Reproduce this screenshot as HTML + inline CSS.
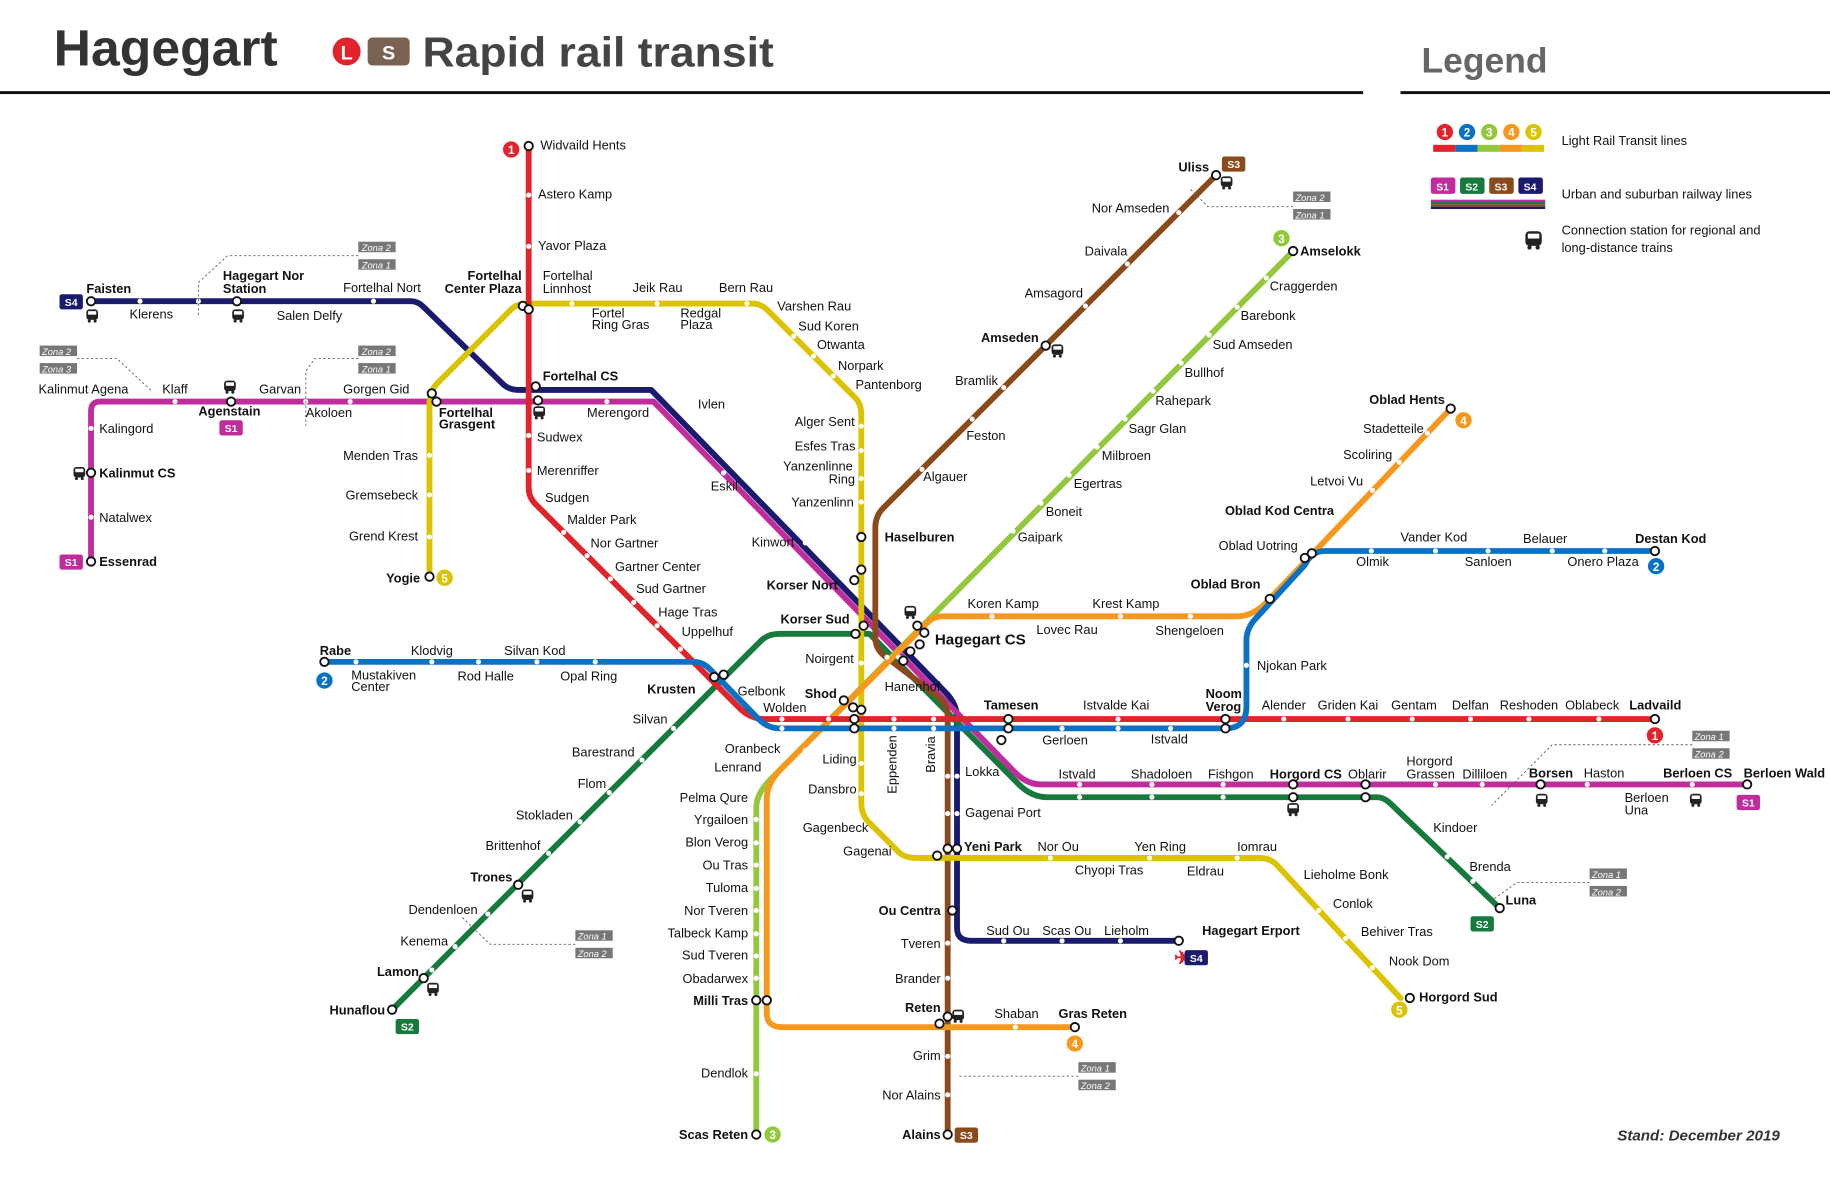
<!DOCTYPE html>
<html><head><meta charset="utf-8"><style>
html,body{margin:0;padding:0;background:#fff}
svg{display:block}
text{font-family:"Liberation Sans",sans-serif;font-size:11px;fill:#111}
.b{font-weight:bold}
.e{text-anchor:end}
.d{fill:#fff}
.i{fill:#fff;stroke:#111;stroke-width:1.6}
.L{fill:none;stroke-width:5;stroke-linejoin:round;stroke-linecap:round}
.z{fill:#777}
.zt{fill:#fff;font-size:8px;font-style:italic}
.n{font-size:9px;font-weight:bold;fill:#fff;text-anchor:middle}
</style></head><body>
<svg width="1830" height="1186" viewBox="0 0 1568 1016" xmlns="http://www.w3.org/2000/svg">
<defs>
<g id="bus"><rect x="-5" y="-5" width="10" height="9" rx="2.5" fill="#222"/><rect x="-3.5" y="-3.5" width="7" height="3" fill="#fff"/><circle cx="-2.5" cy="5" r="1.3" fill="#222"/><circle cx="2.5" cy="5" r="1.3" fill="#222"/></g>
</defs>
<!-- header -->
<text x="46" y="56" class="b" style="font-size:44px;fill:#333" textLength="192" lengthAdjust="spacingAndGlyphs">Hagegart</text>
<circle cx="297" cy="44" r="12" fill="#e3232b"/><text x="297" y="51" class="b" style="font-size:17px;fill:#fff;text-anchor:middle">L</text>
<rect x="315" y="32" width="36" height="24" rx="4" fill="#7a6252"/><text x="333" y="51" class="b" style="font-size:17px;fill:#fff;text-anchor:middle">S</text>
<text x="362" y="57" class="b" style="font-size:36px;fill:#444" textLength="301" lengthAdjust="spacingAndGlyphs">Rapid rail transit</text>
<rect x="0" y="78" width="1168" height="2.5" fill="#111"/>
<text x="1218" y="62" class="b" style="font-size:30px;fill:#666" textLength="108" lengthAdjust="spacingAndGlyphs">Legend</text>
<rect x="1200" y="78" width="368" height="2.5" fill="#111"/>
<!-- legend -->
<g>
<circle cx="1238" cy="113" r="7" fill="#e3232b"/><text x="1238" y="117" class="n" style="font-size:10px">1</text>
<circle cx="1257" cy="113" r="7" fill="#0a72c4"/><text x="1257" y="117" class="n" style="font-size:10px">2</text>
<circle cx="1276" cy="113" r="7" fill="#94c83c"/><text x="1276" y="117" class="n" style="font-size:10px">3</text>
<circle cx="1295" cy="113" r="7" fill="#f7981d"/><text x="1295" y="117" class="n" style="font-size:10px">4</text>
<circle cx="1314" cy="113" r="7" fill="#dcc300"/><text x="1314" y="117" class="n" style="font-size:10px">5</text>
<rect x="1228" y="124" width="19" height="6" fill="#e3232b"/><rect x="1247" y="124" width="19" height="6" fill="#0a72c4"/><rect x="1266" y="124" width="19" height="6" fill="#94c83c"/><rect x="1285" y="124" width="19" height="6" fill="#f7981d"/><rect x="1304" y="124" width="19" height="6" fill="#dcc300"/>
<text x="1338" y="124">Light Rail Transit lines</text>
<rect x="1226" y="152" width="21" height="14" rx="2" fill="#c02c9c"/><text x="1236" y="163" class="n">S1</text>
<rect x="1251" y="152" width="21" height="14" rx="2" fill="#157a3c"/><text x="1261" y="163" class="n">S2</text>
<rect x="1276" y="152" width="21" height="14" rx="2" fill="#8b4a1c"/><text x="1286" y="163" class="n">S3</text>
<rect x="1301" y="152" width="21" height="14" rx="2" fill="#1a1a6e"/><text x="1311" y="163" class="n">S4</text>
<rect x="1226" y="171" width="98" height="2" fill="#c02c9c"/><rect x="1226" y="173" width="98" height="2" fill="#157a3c"/><rect x="1226" y="175" width="98" height="2" fill="#8b4a1c"/><rect x="1226" y="177" width="98" height="2" fill="#1a1a6e"/>
<text x="1338" y="170">Urban and suburban railway lines</text>
<use href="#bus" x="1314" y="205" transform="translate(1314,205) scale(1.4) translate(-1314,-205)"/>
<text x="1338" y="201">Connection station for regional and</text>
<text x="1338" y="216">long-distance trains</text>
</g>
<!-- lines -->
<path class="L" stroke="#1a1a6e" d="M78,258 H352 Q358,258 363,263 L432,330 Q437,334 445,334 H558 L810,593 Q820,603 820,615 V795 Q820,806 832,806 H1010"/>
<path class="L" stroke="#c02c9c" d="M78,481 V352 Q78,344 86,344 H560 L868,660 Q879,672 892,672 H1497"/>
<path class="L" stroke="#157a3c" d="M336,865 L652,549 Q658,543 668,543 H745 L873,672 Q884,683 898,683 H1180 Q1186,683 1192,689 L1285,778"/>
<path class="L" stroke="#8b4a1c" d="M1042,150 L757,435 Q750,442 750,452 V546 Q750,556 758,562 L804,597 Q812,604 812,614 V972"/>
<path class="L" stroke="#dcc300" d="M368,494 V345 Q368,335 375,328 L438,265 Q443,260 452,260 H645 Q652,260 658,266 L733,341 Q738,346 738,356 V688 Q738,698 745,705 L770,730 Q775,735 785,735 H1080 Q1088,735 1094,741 L1200,855"/>
<path class="L" stroke="#94c83c" d="M1108,215 L660,668 Q648,680 648,692 V972"/>
<path class="L" stroke="#f7981d" d="M1243,350 L1088,513 Q1075,528 1060,528 H808 Q800,528 795,533 L668,660 Q657,672 657,684 V868 Q657,880 670,880 H920"/>
<path class="L" stroke="#e3232b" d="M453,125 V418 Q453,426 459,432 L632,605 Q642,616 655,616 H1418"/>
<path class="L" stroke="#0a72c4" d="M278,567 H595 Q602,567 608,573 L650,616 Q658,624 668,624 H1050 Q1068,624 1068,605 V548 Q1068,540 1074,532 L1118,484 Q1124,472 1135,472 H1418"/>
<!-- station dots -->
<g class="d">
<circle cx="453" cy="167" r="2.2"/><circle cx="453" cy="211" r="2.2"/><circle cx="453" cy="373" r="2.2"/><circle cx="453" cy="403" r="2.2"/>
<circle cx="483" cy="456" r="2.2"/><circle cx="503" cy="476" r="2.2"/><circle cx="523" cy="496" r="2.2"/><circle cx="543" cy="516" r="2.2"/><circle cx="563" cy="536" r="2.2"/><circle cx="583" cy="556" r="2.2"/>
<circle cx="670" cy="616" r="2.2"/><circle cx="710" cy="616" r="2.2"/><circle cx="766" cy="616" r="2.2"/><circle cx="800" cy="616" r="2.2"/><circle cx="958" cy="616" r="2.2"/><circle cx="1100" cy="616" r="2.2"/><circle cx="1155" cy="616" r="2.2"/><circle cx="1210" cy="616" r="2.2"/><circle cx="1260" cy="616" r="2.2"/><circle cx="1310" cy="616" r="2.2"/><circle cx="1370" cy="616" r="2.2"/>
<circle cx="305" cy="567" r="2.2"/><circle cx="370" cy="567" r="2.2"/><circle cx="410" cy="567" r="2.2"/><circle cx="460" cy="567" r="2.2"/><circle cx="510" cy="567" r="2.2"/>
<circle cx="670" cy="624" r="2.2"/><circle cx="766" cy="624" r="2.2"/><circle cx="800" cy="624" r="2.2"/><circle cx="910" cy="624" r="2.2"/><circle cx="958" cy="624" r="2.2"/><circle cx="1003" cy="624" r="2.2"/><circle cx="1068" cy="570" r="2.2"/>
<circle cx="1175" cy="472" r="2.2"/><circle cx="1230" cy="472" r="2.2"/><circle cx="1275" cy="472" r="2.2"/><circle cx="1330" cy="472" r="2.2"/><circle cx="1375" cy="472" r="2.2"/>
<circle cx="1085" cy="238" r="2.2"/><circle cx="1060" cy="263" r="2.2"/><circle cx="1036" cy="287" r="2.2"/><circle cx="1012" cy="311" r="2.2"/><circle cx="988" cy="335" r="2.2"/><circle cx="964" cy="359" r="2.2"/><circle cx="940" cy="383" r="2.2"/><circle cx="916" cy="407" r="2.2"/><circle cx="892" cy="431" r="2.2"/><circle cx="868" cy="455" r="2.2"/><circle cx="760" cy="563" r="2.2"/>
<circle cx="648" cy="702" r="2.2"/><circle cx="648" cy="722" r="2.2"/><circle cx="648" cy="741" r="2.2"/><circle cx="648" cy="761" r="2.2"/><circle cx="648" cy="780" r="2.2"/><circle cx="648" cy="800" r="2.2"/><circle cx="648" cy="819" r="2.2"/><circle cx="648" cy="838" r="2.2"/><circle cx="648" cy="920" r="2.2"/>
<circle cx="1223" cy="371" r="2.2"/><circle cx="1199" cy="396" r="2.2"/><circle cx="1176" cy="420" r="2.2"/><circle cx="850" cy="528" r="2.2"/><circle cx="960" cy="528" r="2.2"/><circle cx="1020" cy="528" r="2.2"/><circle cx="770" cy="563" r="2.2"/><circle cx="690" cy="643" r="2.2"/><circle cx="870" cy="880" r="2.2"/>
<circle cx="368" cy="390" r="2.2"/><circle cx="368" cy="424" r="2.2"/><circle cx="368" cy="460" r="2.2"/><circle cx="490" cy="260" r="2.2"/><circle cx="563" cy="260" r="2.2"/><circle cx="640" cy="260" r="2.2"/><circle cx="680" cy="288" r="2.2"/><circle cx="697" cy="305" r="2.2"/><circle cx="714" cy="322" r="2.2"/>
<circle cx="738" cy="365" r="2.2"/><circle cx="738" cy="386" r="2.2"/><circle cx="738" cy="410" r="2.2"/><circle cx="738" cy="430" r="2.2"/><circle cx="738" cy="568" r="2.2"/><circle cx="738" cy="654" r="2.2"/><circle cx="738" cy="680" r="2.2"/>
<circle cx="900" cy="735" r="2.2"/><circle cx="985" cy="735" r="2.2"/><circle cx="1060" cy="735" r="2.2"/><circle cx="1130" cy="780" r="2.2"/><circle cx="1153" cy="804" r="2.2"/><circle cx="1176" cy="829" r="2.2"/>
<circle cx="120" cy="258" r="2.2"/><circle cx="170" cy="258" r="2.2"/><circle cx="320" cy="258" r="2.2"/><circle cx="150" cy="344" r="2.2"/><circle cx="262" cy="344" r="2.2"/><circle cx="300" cy="344" r="2.2"/><circle cx="78" cy="367" r="2.2"/><circle cx="78" cy="443" r="2.2"/><circle cx="520" cy="344" r="2.2"/><circle cx="590" cy="344" r="2.2"/>
<circle cx="1010" cy="182" r="2.2"/><circle cx="966" cy="226" r="2.2"/><circle cx="930" cy="262" r="2.2"/><circle cx="860" cy="332" r="2.2"/><circle cx="833" cy="359" r="2.2"/><circle cx="790" cy="402" r="2.2"/>
<circle cx="812" cy="665" r="2.2"/><circle cx="812" cy="697" r="2.2"/><circle cx="812" cy="808" r="2.2"/><circle cx="812" cy="838" r="2.2"/><circle cx="812" cy="905" r="2.2"/><circle cx="812" cy="938" r="2.2"/>
<circle cx="820" cy="665" r="2.2"/><circle cx="820" cy="697" r="2.2"/><circle cx="860" cy="806" r="2.2"/><circle cx="910" cy="806" r="2.2"/><circle cx="960" cy="806" r="2.2"/>
<circle cx="370" cy="831" r="2.2"/><circle cx="390" cy="811" r="2.2"/><circle cx="418" cy="783" r="2.2"/><circle cx="470" cy="731" r="2.2"/><circle cx="497" cy="704" r="2.2"/><circle cx="522" cy="679" r="2.2"/><circle cx="550" cy="651" r="2.2"/><circle cx="577" cy="624" r="2.2"/>
<circle cx="925" cy="672" r="2.2"/><circle cx="987" cy="672" r="2.2"/><circle cx="1048" cy="672" r="2.2"/><circle cx="1230" cy="672" r="2.2"/><circle cx="1270" cy="672" r="2.2"/><circle cx="1360" cy="672" r="2.2"/><circle cx="1450" cy="672" r="2.2"/>
<circle cx="925" cy="683" r="2.2"/><circle cx="987" cy="683" r="2.2"/><circle cx="1048" cy="683" r="2.2"/><circle cx="1240" cy="734" r="2.2"/><circle cx="1262" cy="755" r="2.2"/>
<circle cx="652" cy="495" r="2.2"/><circle cx="690" cy="465" r="2.2"/><circle cx="620" cy="405" r="2.2"/>
</g>
<!-- interchanges -->
<g class="i">
<circle cx="453" cy="125" r="3.6"/><circle cx="78" cy="258" r="3.6"/><circle cx="203" cy="258" r="3.6"/><circle cx="448" cy="262" r="3.6"/><circle cx="453" cy="265" r="3.6"/><circle cx="459" cy="331" r="3.6"/><circle cx="461" cy="343" r="3.6"/><circle cx="370" cy="337" r="3.6"/><circle cx="374" cy="344" r="3.6"/><circle cx="198" cy="344" r="3.6"/>
<circle cx="78" cy="481" r="3.6"/><circle cx="368" cy="494" r="3.6"/><circle cx="738" cy="460" r="3.6"/><circle cx="738" cy="488" r="3.6"/><circle cx="732" cy="497" r="3.6"/><circle cx="740" cy="536" r="3.6"/><circle cx="733" cy="543" r="3.6"/>
<circle cx="786" cy="536" r="3.6"/><circle cx="792" cy="542" r="3.6"/><circle cx="788" cy="552" r="3.6"/><circle cx="780" cy="558" r="3.6"/><circle cx="774" cy="566" r="3.6"/>
<circle cx="612" cy="580" r="3.6"/><circle cx="620" cy="578" r="3.6"/><circle cx="723" cy="600" r="3.6"/><circle cx="731" cy="606" r="3.6"/><circle cx="738" cy="608" r="3.6"/><circle cx="732" cy="616" r="3.6"/><circle cx="732" cy="624" r="3.6"/>
<circle cx="864" cy="616" r="3.6"/><circle cx="864" cy="624" r="3.6"/><circle cx="858" cy="634" r="3.6"/><circle cx="1050" cy="616" r="3.6"/><circle cx="1050" cy="624" r="3.6"/>
<circle cx="1088" cy="513" r="3.6"/><circle cx="1118" cy="478" r="3.6"/><circle cx="1124" cy="474" r="3.6"/><circle cx="1418" cy="472" r="3.6"/><circle cx="1418" cy="616" r="3.6"/>
<circle cx="1108" cy="215" r="3.6"/><circle cx="1243" cy="350" r="3.6"/><circle cx="1042" cy="150" r="3.6"/><circle cx="896" cy="296" r="3.6"/>
<circle cx="803" cy="733" r="3.6"/><circle cx="812" cy="727" r="3.6"/><circle cx="820" cy="727" r="3.6"/><circle cx="816" cy="780" r="3.6"/><circle cx="805" cy="877" r="3.6"/><circle cx="812" cy="871" r="3.6"/>
<circle cx="1010" cy="806" r="3.6"/><circle cx="921" cy="880" r="3.6"/><circle cx="1208" cy="855" r="3.6"/><circle cx="1285" cy="778" r="3.6"/>
<circle cx="1108" cy="672" r="3.6"/><circle cx="1108" cy="683" r="3.6"/><circle cx="1170" cy="672" r="3.6"/><circle cx="1170" cy="683" r="3.6"/><circle cx="1320" cy="672" r="3.6"/><circle cx="1497" cy="672" r="3.6"/>
<circle cx="336" cy="865" r="3.6"/><circle cx="444" cy="758" r="3.6"/><circle cx="363" cy="838" r="3.6"/><circle cx="648" cy="972" r="3.6"/><circle cx="812" cy="972" r="3.6"/><circle cx="648" cy="857" r="3.6"/><circle cx="657" cy="857" r="3.6"/><circle cx="278" cy="567" r="3.6"/><circle cx="78" cy="405" r="3.6"/>
</g>
<!-- bus icons -->
<use href="#bus" x="79" y="270"/><use href="#bus" x="204" y="270"/><use href="#bus" x="197" y="331"/><use href="#bus" x="462" y="353"/><use href="#bus" x="68" y="405"/>
<use href="#bus" x="1051" y="156"/><use href="#bus" x="906" y="300"/><use href="#bus" x="780" y="524"/><use href="#bus" x="452" y="767"/><use href="#bus" x="371" y="847"/>
<use href="#bus" x="821" y="870"/><use href="#bus" x="1108" y="693"/><use href="#bus" x="1321" y="685"/><use href="#bus" x="1453" y="685"/>
<text x="1006" y="826" style="font-size:16px;fill:#e3232b" class="b">✈</text>
<!-- line number circles -->
<g>
<circle cx="438" cy="128" r="7" fill="#e3232b"/><text x="438" y="132" class="n" style="font-size:10px">1</text>
<circle cx="381" cy="495" r="7" fill="#dcc300"/><text x="381" y="499" class="n" style="font-size:10px">5</text>
<circle cx="278" cy="583" r="7" fill="#0a72c4"/><text x="278" y="587" class="n" style="font-size:10px">2</text>
<circle cx="1098" cy="204" r="7" fill="#94c83c"/><text x="1098" y="208" class="n" style="font-size:10px">3</text>
<circle cx="1254" cy="360" r="7" fill="#f7981d"/><text x="1254" y="364" class="n" style="font-size:10px">4</text>
<circle cx="1419" cy="485" r="7" fill="#0a72c4"/><text x="1419" y="489" class="n" style="font-size:10px">2</text>
<circle cx="1418" cy="630" r="7" fill="#e3232b"/><text x="1418" y="634" class="n" style="font-size:10px">1</text>
<circle cx="921" cy="894" r="7" fill="#f7981d"/><text x="921" y="898" class="n" style="font-size:10px">4</text>
<circle cx="1199" cy="865" r="7" fill="#dcc300"/><text x="1199" y="869" class="n" style="font-size:10px">5</text>
<circle cx="662" cy="972" r="7" fill="#94c83c"/><text x="662" y="976" class="n" style="font-size:10px">3</text>
<rect x="51" y="252" width="20" height="13" rx="2" fill="#1a1a6e"/><text x="61" y="262" class="n">S4</text>
<rect x="188" y="360" width="20" height="13" rx="2" fill="#c02c9c"/><text x="198" y="370" class="n">S1</text>
<rect x="51" y="475" width="20" height="13" rx="2" fill="#c02c9c"/><text x="61" y="485" class="n">S1</text>
<rect x="1047" y="134" width="20" height="13" rx="2" fill="#8b4a1c"/><text x="1057" y="144" class="n">S3</text>
<rect x="339" y="873" width="20" height="13" rx="2" fill="#157a3c"/><text x="349" y="883" class="n">S2</text>
<rect x="1015" y="814" width="20" height="13" rx="2" fill="#1a1a6e"/><text x="1025" y="824" class="n">S4</text>
<rect x="1488" y="681" width="20" height="13" rx="2" fill="#c02c9c"/><text x="1498" y="691" class="n">S1</text>
<rect x="1260" y="785" width="20" height="13" rx="2" fill="#157a3c"/><text x="1270" y="795" class="n">S2</text>
<rect x="818" y="966" width="20" height="13" rx="2" fill="#8b4a1c"/><text x="828" y="976" class="n">S3</text>
</g>
<!-- zone boundaries -->
<g stroke="#666" stroke-width="0.8" stroke-dasharray="2,2" fill="none">
<path d="M307,219 H195 L170,242 V272"/><path d="M66,307 H100 L130,335"/><path d="M307,307 H270 L262,318 V365"/>
<path d="M1108,177 H1035 L1020,162"/><path d="M493,809 H420 L395,785"/><path d="M1450,638 H1330 L1278,690"/><path d="M1362,756 H1300 L1280,770"/><path d="M924,922 H820"/>
</g>
<g>
<rect class="z" x="307" y="207" width="32" height="9"/><text class="zt" x="310" y="215">Zona 2</text>
<rect class="z" x="307" y="222" width="32" height="9"/><text class="zt" x="310" y="230">Zona 1</text>
<rect class="z" x="34" y="296" width="32" height="9"/><text class="zt" x="36" y="304">Zona 2</text>
<rect class="z" x="34" y="311" width="32" height="9"/><text class="zt" x="36" y="319">Zona 3</text>
<rect class="z" x="307" y="296" width="32" height="9"/><text class="zt" x="310" y="304">Zona 2</text>
<rect class="z" x="307" y="311" width="32" height="9"/><text class="zt" x="310" y="319">Zona 1</text>
<rect class="z" x="1108" y="164" width="32" height="9"/><text class="zt" x="1110" y="172">Zona 2</text>
<rect class="z" x="1108" y="179" width="32" height="9"/><text class="zt" x="1110" y="187">Zona 1</text>
<rect class="z" x="493" y="797" width="32" height="9"/><text class="zt" x="495" y="805">Zona 1</text>
<rect class="z" x="493" y="812" width="32" height="9"/><text class="zt" x="495" y="820">Zona 2</text>
<rect class="z" x="1450" y="626" width="32" height="9"/><text class="zt" x="1452" y="634">Zona 1</text>
<rect class="z" x="1450" y="641" width="32" height="9"/><text class="zt" x="1452" y="649">Zona 2</text>
<rect class="z" x="1362" y="744" width="32" height="9"/><text class="zt" x="1364" y="752">Zona 1</text>
<rect class="z" x="1362" y="759" width="32" height="9"/><text class="zt" x="1364" y="767">Zona 2</text>
<rect class="z" x="924" y="910" width="32" height="9"/><text class="zt" x="926" y="918">Zona 1</text>
<rect class="z" x="924" y="925" width="32" height="9"/><text class="zt" x="926" y="933">Zona 2</text>
</g>
<!-- labels -->
<g>
<text x="463" y="128">Widvaild Hents</text><text x="461" y="170">Astero Kamp</text><text x="461" y="214">Yavor Plaza</text>
<text x="465" y="240">Fortelhal</text><text x="465" y="251">Linnhost</text><text x="542" y="250">Jeik Rau</text><text x="616" y="250">Bern Rau</text>
<text x="507" y="272">Fortel</text><text x="507" y="282">Ring Gras</text><text x="583" y="272">Redgal</text><text x="583" y="282">Plaza</text>
<text x="666" y="266">Varshen Rau</text><text x="684" y="283">Sud Koren</text><text x="700" y="299">Otwanta</text><text x="718" y="317">Norpark</text><text x="733" y="333">Pantenborg</text>
<text x="447" y="240" class="b e">Fortelhal</text><text x="447" y="251" class="b e">Center Plaza</text>
<text x="74" y="251" class="b">Faisten</text><text x="111" y="273">Klerens</text><text x="191" y="240" class="b">Hagegart Nor</text><text x="191" y="251" class="b">Station</text><text x="237" y="274">Salen Delfy</text><text x="294" y="250">Fortelhal Nort</text>
<text x="465" y="326" class="b">Fortelhal CS</text><text x="33" y="337">Kalinmut Agena</text><text x="139" y="337">Klaff</text><text x="170" y="356" class="b">Agenstain</text><text x="222" y="337">Garvan</text><text x="294" y="337">Gorgen Gid</text><text x="262" y="357">Akoloen</text>
<text x="376" y="357" class="b">Fortelhal</text><text x="376" y="367" class="b">Grasgent</text>
<text x="85" y="371">Kalingord</text><text x="85" y="409" class="b">Kalinmut CS</text><text x="85" y="447">Natalwex</text><text x="85" y="485" class="b">Essenrad</text>
<text x="294" y="394">Menden Tras</text><text x="296" y="428">Gremsebeck</text><text x="299" y="463">Grend Krest</text><text x="360" y="499" class="b e">Yogie</text>
<text x="503" y="357">Merengord</text><text x="598" y="350">Ivlen</text><text x="460" y="378">Sudwex</text><text x="460" y="407">Merenriffer</text><text x="609" y="420">Eskil</text>
<text x="467" y="430">Sudgen</text><text x="486" y="449">Malder Park</text><text x="506" y="469">Nor Gartner</text><text x="527" y="489">Gartner Center</text><text x="545" y="508">Sud Gartner</text><text x="564" y="528">Hage Tras</text><text x="584" y="545">Uppelhuf</text>
<text x="644" y="468">Kinwort</text><text x="681" y="365">Alger Sent</text><text x="681" y="386">Esfes Tras</text><text x="671" y="403">Yanzenlinne</text><text x="710" y="414">Ring</text><text x="678" y="434">Yanzenlinn</text>
<text x="758" y="464" class="b">Haselburen</text><text x="718" y="505" class="b e">Korser Nort</text><text x="728" y="534" class="b e">Korser Sud</text><text x="690" y="568">Noirgent</text><text x="717" y="598" class="b e">Shod</text>
<text x="632" y="596">Gelbonk</text><text x="654" y="610">Wolden</text><text x="596" y="594" class="b e">Krusten</text>
<text x="274" y="561" class="b">Rabe</text><text x="352" y="561">Klodvig</text><text x="432" y="561">Silvan Kod</text><text x="301" y="582">Mustakiven</text><text x="301" y="592">Center</text><text x="392" y="583">Rod Halle</text><text x="480" y="583">Opal Ring</text>
<text x="542" y="620">Silvan</text><text x="490" y="648">Barestrand</text><text x="495" y="675">Flom</text><text x="442" y="702">Stokladen</text><text x="416" y="728">Brittenhof</text><text x="403" y="755" class="b">Trones</text><text x="350" y="783">Dendenloen</text><text x="343" y="810">Kenema</text><text x="323" y="836" class="b">Lamon</text><text x="330" y="869" class="b e">Hunaflou</text>
<text x="621" y="645">Oranbeck</text><text x="612" y="661">Lenrand</text>
<text x="641" y="687" class="e">Pelma Qure</text><text x="641" y="706" class="e">Yrgailoen</text><text x="641" y="725" class="e">Blon Verog</text><text x="641" y="745" class="e">Ou Tras</text><text x="641" y="764" class="e">Tuloma</text><text x="641" y="784" class="e">Nor Tveren</text><text x="641" y="803" class="e">Talbeck Kamp</text><text x="641" y="822" class="e">Sud Tveren</text><text x="641" y="842" class="e">Obadarwex</text><text x="641" y="861" class="b e">Milli Tras</text><text x="641" y="923" class="e">Dendlok</text><text x="641" y="976" class="b e">Scas Reten</text>
<text x="734" y="654" class="e">Liding</text><text x="734" y="680" class="e">Dansbro</text><text x="744" y="713" class="e">Gagenbeck</text><text x="764" y="733" class="e">Gagenai</text>
<text transform="translate(768,680) rotate(-90)">Eppenden</text><text transform="translate(801,662) rotate(-90)">Bravia</text>
<text x="827" y="665">Lokka</text><text x="827" y="700">Gagenai Port</text><text x="826" y="729" class="b">Yeni Park</text><text x="889" y="729">Nor Ou</text><text x="972" y="729">Yen Ring</text><text x="1060" y="729">Iomrau</text>
<text x="921" y="749">Chyopi Tras</text><text x="1017" y="750">Eldrau</text><text x="1117" y="753">Lieholme Bonk</text><text x="1142" y="778">Conlok</text><text x="1166" y="802">Behiver Tras</text><text x="1190" y="827">Nook Dom</text><text x="1216" y="858" class="b">Horgord Sud</text>
<text x="806" y="784" class="b e">Ou Centra</text><text x="806" y="812" class="e">Tveren</text><text x="806" y="842" class="e">Brander</text><text x="806" y="867" class="b e">Reten</text><text x="852" y="872">Shaban</text><text x="907" y="872" class="b">Gras Reten</text>
<text x="806" y="908" class="e">Grim</text><text x="806" y="942" class="e">Nor Alains</text><text x="806" y="976" class="b e">Alains</text>
<text x="845" y="801">Sud Ou</text><text x="893" y="801">Scas Ou</text><text x="946" y="801">Lieholm</text><text x="1030" y="801" class="b">Hagegart Erport</text>
<text x="758" y="592">Hanenhof</text><text x="801" y="552" class="b" style="font-size:13px">Hagegart CS</text>
<text x="829" y="521">Koren Kamp</text><text x="936" y="521">Krest Kamp</text><text x="888" y="543">Lovec Rau</text><text x="990" y="544">Shengeloen</text>
<text x="843" y="608" class="b">Tamesen</text><text x="928" y="608">Istvalde Kai</text><text x="1033" y="598" class="b">Noom</text><text x="1033" y="609" class="b">Verog</text>
<text x="893" y="638">Gerloen</text><text x="986" y="637">Istvald</text>
<text x="1081" y="608">Alender</text><text x="1129" y="608">Griden Kai</text><text x="1192" y="608">Gentam</text><text x="1244" y="608">Delfan</text><text x="1285" y="608">Reshoden</text><text x="1341" y="608">Oblabeck</text><text x="1396" y="608" class="b">Ladvaild</text>
<text x="907" y="667">Istvald</text><text x="969" y="667">Shadoloen</text><text x="1035" y="667">Fishgon</text><text x="1088" y="667" class="b">Horgord CS</text><text x="1155" y="667">Oblarir</text>
<text x="1205" y="656">Horgord</text><text x="1205" y="667">Grassen</text><text x="1253" y="667">Dilliloen</text><text x="1310" y="666" class="b">Borsen</text><text x="1357" y="666">Haston</text><text x="1425" y="666" class="b">Berloen CS</text><text x="1494" y="666" class="b">Berloen Wald</text>
<text x="1392" y="687">Berloen</text><text x="1392" y="698">Una</text><text x="1228" y="713">Kindoer</text><text x="1259" y="746">Brenda</text><text x="1290" y="775" class="b">Luna</text>
<text x="1077" y="574">Njokan Park</text><text x="1080" y="504" class="b e">Oblad Bron</text><text x="1112" y="471" class="e">Oblad Uotring</text>
<text x="1162" y="485">Olmik</text><text x="1200" y="464">Vander Kod</text><text x="1255" y="485">Sanloen</text><text x="1305" y="465">Belauer</text><text x="1343" y="485">Onero Plaza</text><text x="1401" y="465" class="b">Destan Kod</text>
<text x="1143" y="441" class="b e">Oblad Kod Centra</text><text x="1168" y="416" class="e">Letvoi Vu</text><text x="1193" y="393" class="e">Scoliring</text><text x="1168" y="371">Stadetteile</text><text x="1238" y="346" class="b e">Oblad Hents</text>
<text x="1114" y="219" class="b">Amselokk</text><text x="1088" y="249">Craggerden</text><text x="1063" y="274">Barebonk</text><text x="1039" y="299">Sud Amseden</text><text x="1015" y="323">Bullhof</text><text x="990" y="347">Rahepark</text><text x="967" y="371">Sagr Glan</text><text x="944" y="394">Milbroen</text><text x="920" y="418">Egertras</text><text x="896" y="442">Boneit</text><text x="872" y="464">Gaipark</text>
<text x="1036" y="147" class="b e">Uliss</text><text x="1002" y="182" class="e">Nor Amseden</text><text x="966" y="219" class="e">Daivala</text><text x="928" y="255" class="e">Amsagord</text><text x="890" y="293" class="b e">Amseden</text><text x="855" y="330" class="e">Bramlik</text><text x="828" y="377">Feston</text><text x="791" y="412">Algauer</text>
<text x="1525" y="977" class="b e" style="font-size:13px;font-style:italic;fill:#333">Stand: December 2019</text>
</g>
</svg>
</body></html>
